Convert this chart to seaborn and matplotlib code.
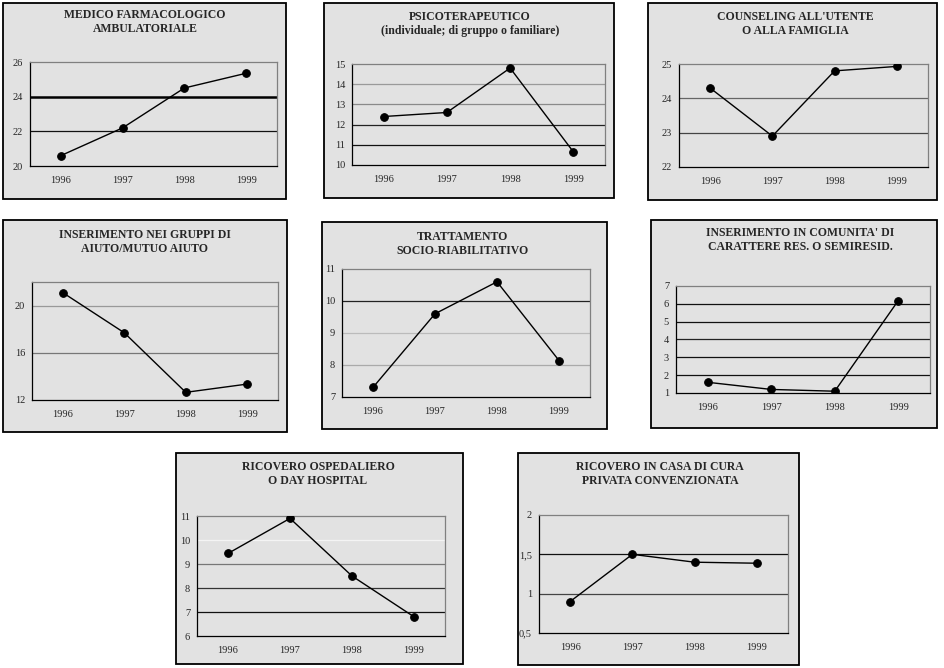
import numpy as np
import pandas as pd
import seaborn as sns
import matplotlib.pyplot as plt
from matplotlib.patches import Rectangle

# ─────────────────────────────────────────
# Data
# ─────────────────────────────────────────
years = ["1996", "1997", "1998", "1999"]

medico = [20.6, 22.2, 24.5, 25.35]
psico = [12.4, 12.6, 14.8, 10.65]
counseling = [24.3, 22.9, 24.8, 24.93]
gruppi = [21.1, 17.7, 12.65, 13.35]
socio = [7.3, 9.6, 10.6, 8.14]
comunita = [1.6, 1.2, 1.1, 6.18]
ospedale = [9.44, 10.9, 8.5, 6.8]
casa_cura = [0.9, 1.5, 1.4, 1.387]

titles = [
    "MEDICO FARMACOLOGICO\nAMBULATORIALE",
    "PSICOTERAPEUTICO\n(individuale; di gruppo o familiare)",
    "COUNSELING ALL'UTENTE\nO ALLA FAMIGLIA",
    "INSERIMENTO NEI GRUPPI DI\nAIUTO/MUTUO AIUTO",
    "TRATTAMENTO\nSOCIO-RIABILITATIVO",
    "INSERIMENTO IN COMUNITA' DI\nCARATTERE RES. O SEMIRESID.",
    "RICOVERO OSPEDALIERO\nO DAY HOSPITAL",
    "RICOVERO IN CASA DI CURA\nPRIVATA CONVENZIONATA",
]
series = [medico, psico, counseling, gruppi, socio, comunita, ospedale, casa_cura]

yticks = [
    [20, 22, 24, 26],
    [10, 11, 12, 13, 14, 15],
    [22, 23, 24, 25],
    [12, 16, 20],
    [7, 8, 9, 10, 11],
    [1, 2, 3, 4, 5, 6, 7],
    [6, 7, 8, 9, 10, 11],
    [0.5, 1, 1.5, 2],
]
ylims = [(20, 26), (10, 15), (22, 25), (12, 22), (7, 11), (1, 7), (6, 11), (0.5, 2)]
ytick_labels = [None, None, None, None, None, None, None, ["0,5", "1", "1,5", "2"]]

# ─────────────────────────────────────────
# Layout (pixels) and styling
# ─────────────────────────────────────────
W, H = 945, 668
boxes = [(3, 3, 286, 199), (324, 3, 614, 198), (648, 3, 937, 200),
         (3, 220, 287, 432), (322, 222, 607, 429), (651, 220, 937, 428),
         (176, 453, 463, 664), (518, 453, 799, 665)]
areas = [(30, 62, 277, 166), (352, 64, 605, 165), (679, 64, 928, 167),
         (32, 282, 278, 400), (342, 269, 590, 397), (676, 286, 930, 393),
         (197, 516, 445, 636), (539, 515, 788, 633)]
title_pos = [(145, 22), (470, 24), (795, 24), (145, 242), (463, 244),
             (800, 240), (318, 474), (660, 474)]
grid_colors = [
    {22: "#111111", 24: "#000000"},
    {11: "#111111", 12: "#222222", 13: "#8a8a8a", 14: "#9a9a9a"},
    {23: "#444444", 24: "#666666"},
    {16: "#777777", 20: "#999999"},
    {8: "#aaaaaa", 9: "#bbbbbb", 10: "#222222"},
    {2: "#111111", 3: "#111111", 4: "#222222", 5: "#111111", 6: "#111111"},
    {7: "#111111", 8: "#333333", 9: "#777777", 10: "#f4f4f4"},
    {1: "#444444", 1.5: "#111111"},
]
grid_width = [{24: 1.8}, {}, {}, {}, {}, {}, {}, {}]

bg = "#e2e2e2"

sns.set_style("white")
plt.rcParams['font.family'] = ['Liberation Serif', 'DejaVu Serif']

fig = plt.figure(figsize=(W / 100, H / 100), dpi=100)
fig.patch.set_facecolor("white")

for i in range(8):
    bx0, by0, bx1, by1 = boxes[i]
    fig.add_artist(Rectangle((bx0 / W, 1 - by1 / H), (bx1 - bx0) / W, (by1 - by0) / H,
                             transform=fig.transFigure, facecolor=bg,
                             edgecolor="black", linewidth=1.3, zorder=0))

    ax0, ay0, ax1, ay1 = areas[i]
    ax = fig.add_axes([ax0 / W, 1 - ay1 / H, (ax1 - ax0) / W, (ay1 - ay0) / H])
    ax.set_facecolor(bg)

    df = pd.DataFrame({"x": np.arange(len(years)), "y": series[i]})
    for val, col in grid_colors[i].items():
        ax.axhline(val, color=col, lw=grid_width[i].get(val, 0.9), zorder=1)
    sns.lineplot(data=df, x="x", y="y", ax=ax, color="black", lw=1.0,
                 marker="o", markersize=5.5, markeredgecolor="black", zorder=3)

    ax.set_xlim(-0.5, len(years) - 0.5)
    ax.set_ylim(*ylims[i])
    ax.set_xticks(np.arange(len(years)))
    ax.set_xticklabels(years)
    ax.set_xticks(np.arange(len(years) + 1) - 0.5, minor=True)
    ax.tick_params(axis="x", which="major", length=0, pad=7, labelsize=7.5)
    ax.tick_params(axis="x", which="minor", length=3, width=0.8, direction="out", color="black")
    ax.set_yticks(yticks[i])
    if ytick_labels[i] is not None:
        ax.set_yticklabels(ytick_labels[i])
    ax.tick_params(axis="y", length=3, width=0.8, direction="out", pad=2, labelsize=7.5, color="black")
    ax.set_xlabel("")
    ax.set_ylabel("")

    for s in ["left", "bottom"]:
        ax.spines[s].set_color("black")
        ax.spines[s].set_linewidth(0.9)
    for s in ["top", "right"]:
        ax.spines[s].set_color("#808080")
        ax.spines[s].set_linewidth(0.9)

    tx, ty = title_pos[i]
    fig.text(tx / W, 1 - ty / H, titles[i], ha="center", va="center",
             fontsize=8.5, fontweight="bold", linespacing=1.2)

fig.savefig("out.png", dpi=100)
